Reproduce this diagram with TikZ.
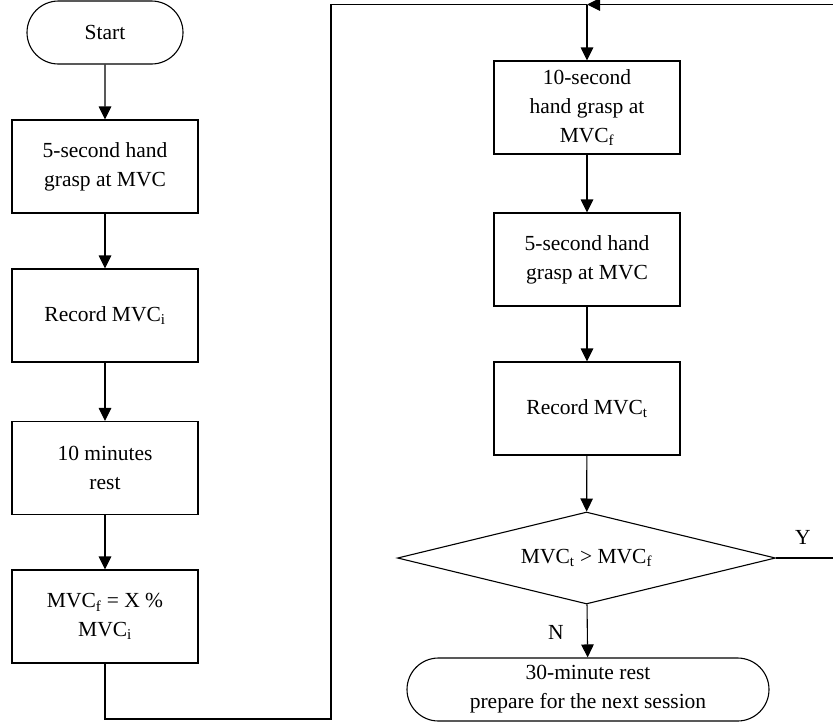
\documentclass[tikz,border=0pt]{standalone}
\usepackage{fontspec}
\setmainfont{Liberation Serif}
\usetikzlibrary{arrows.meta,shapes.geometric,shapes.misc}
\begin{document}
\begin{tikzpicture}[x=1pt,y=-1pt,
  every node/.style={font=\fontsize{21.5}{29}\selectfont, align=center, inner sep=0pt},
  procbox/.style={draw, line width=1.1pt, minimum width=186pt, minimum height=93pt},
  termbox/.style={draw, line width=1.1pt, rounded rectangle, minimum height=63pt},
  decbox/.style={draw, line width=1.1pt, diamond, aspect=4.1, minimum width=378pt, minimum height=92pt},
  flow/.style={line width=1.1pt, -{Triangle[width=12.5pt,length=13pt]}},
  plain/.style={line width=1.1pt}]
\useasboundingbox (0,0) rectangle (833,724);

% left column
\node[termbox, minimum width=156pt] (start) at (105,32.5) {Start};
\node[procbox] (b1) at (105,166.5) {5-second hand\\grasp at MVC};
\node[procbox] (b2) at (105,315.5) {Record MVC\textsubscript{i}};
\node[procbox] (b3) at (105,468) {10 minutes\\rest};
\node[procbox] (b4) at (105,616.5) {MVC\textsubscript{f} = X \%\\MVC\textsubscript{i}};

% right column
\node[procbox] (b5) at (587,107.5) {10-second\\hand grasp at\\MVC\textsubscript{f}};
\node[procbox] (b6) at (587,259.5) {5-second hand\\grasp at MVC};
\node[procbox] (b7) at (587,408.5) {Record MVC\textsubscript{t}};
\node[decbox] (dec) at (586.5,558) {MVC\textsubscript{t} > MVC\textsubscript{f}};
\node[termbox, minimum width=362pt] (stop) at (588,689.5) {30-minute rest\\prepare for the next session};

% routing points
\coordinate (join) at (587,4.5);
\coordinate (lowL) at (331,719);
\coordinate (topL) at (331,4.5);
\coordinate (loopR) at (850,558);
\coordinate (loopT) at (850,4.5);

% connectors
\draw[flow] (start) -- (b1);
\draw[flow] (b1) -- (b2);
\draw[flow] (b2) -- (b3);
\draw[flow] (b3) -- (b4);
\draw[plain] (b4.south) |- (lowL) -- (topL) -- (join);
\draw[flow] (join) -- (b5);
\draw[flow] (b5) -- (b6);
\draw[flow] (b6) -- (b7);
\draw[flow] (b7) -- (dec);
\draw[flow] (dec) -- (stop);
\draw[flow] (dec.east) -- (loopR) -- (loopT) -- (join);

% branch labels
\node (ylab) at (803,537) {Y};
\node (nlab) at (556,632) {N};
\end{tikzpicture}
\end{document}
